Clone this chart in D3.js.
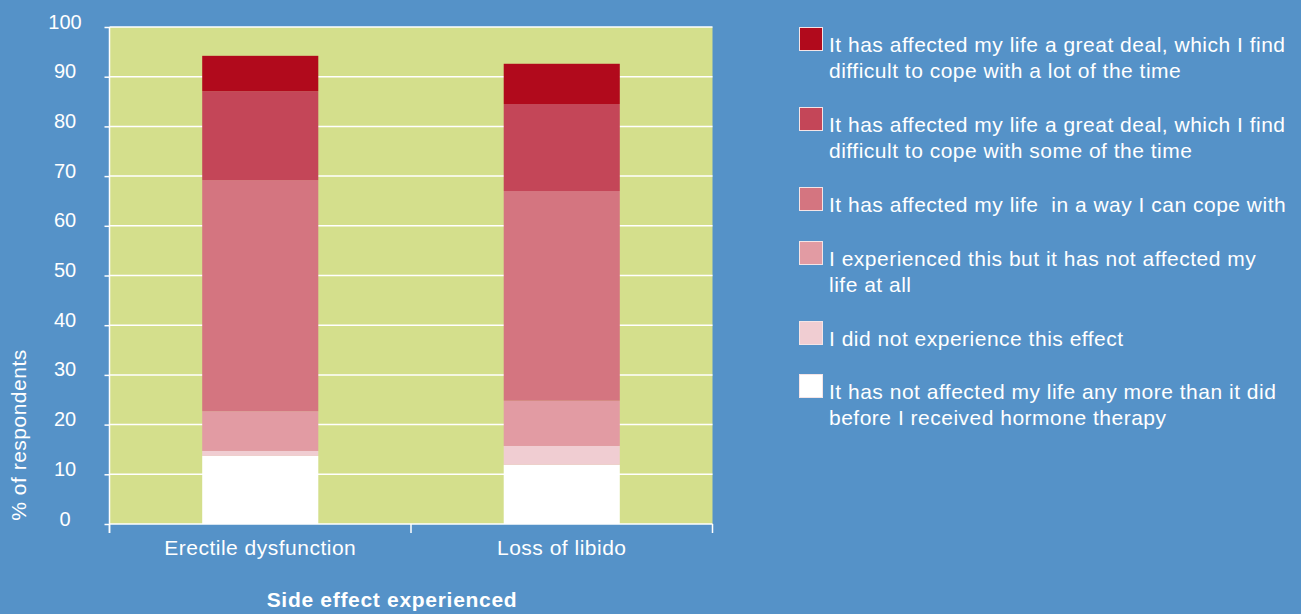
<!DOCTYPE html>
<html>
<head>
<meta charset="utf-8">
<script src="https://cdn.jsdelivr.net/npm/d3@7"></script>
<style>
  body { margin: 0; background: #5592c8; }
  text { font-family: "Liberation Sans", Arial, Helvetica, sans-serif; fill: #fff; }
  .lbl { font-size: 21px; letter-spacing: 0.5px; }
</style>
</head>
<body>
<svg id="chart" width="1301" height="614"></svg>
<script>
const categories = ['Erectile dysfunction', 'Loss of libido'];

// stacked bottom to top
const notMoreThanBefore = [13.7, 11.9];
const didNotExperience = [1.0, 3.8];
const notAffected = [8.0, 9.1];
const canCope = [46.5, 42.2];
const someOfTheTime = [17.9, 17.5];
const lotOfTheTime = [7.1, 8.1];

const yTicks = [0, 10, 20, 30, 40, 50, 60, 70, 80, 90, 100];

const seriesKeys = ['lot', 'some', 'cope', 'notAffected', 'didNot', 'notMore'];
const legendLabels = [
  ['It has affected my life a great deal, which I find', 'difficult to cope with a lot of the time'],
  ['It has affected my life a great deal, which I find', 'difficult to cope with some of the time'],
  ['It has affected my life  in a way I can cope with'],
  ['I experienced this but it has not affected my', 'life at all'],
  ['I did not experience this effect'],
  ['It has not affected my life any more than it did', 'before I received hormone therapy']
];
const colors = ['#b10a1c', '#c44658', '#d47580', '#e29ba3', '#f0cdd2', '#ffffff'];

const rows = categories.map((c, i) => ({
  category: c,
  notMore: notMoreThanBefore[i],
  didNot: didNotExperience[i],
  notAffected: notAffected[i],
  cope: canCope[i],
  some: someOfTheTime[i],
  lot: lotOfTheTime[i]
}));

const svg = d3.select('#chart');
const plotLeft = 109.5, plotRight = 712.5, plotTop = 27, plotBottom = 524;

svg.append('rect').attr('width', 1301).attr('height', 614).attr('fill', '#5592c8');

const x = d3.scaleBand().domain(categories).range([plotLeft, plotRight]).padding(0);
const y = d3.scaleLinear().domain([0, 100]).range([plotBottom, plotTop]);
const color = d3.scaleOrdinal().domain(seriesKeys).range(colors);

// plot background
svg.append('rect')
  .attr('x', plotLeft).attr('y', y(100))
  .attr('width', plotRight - plotLeft).attr('height', y(0) - y(100))
  .attr('fill', '#d4df8c');

// gridlines
svg.append('g').selectAll('line')
  .data(yTicks.filter(d => d > 0))
  .join('line')
  .attr('x1', plotLeft).attr('x2', plotRight)
  .attr('y1', d => y(d)).attr('y2', d => y(d))
  .attr('stroke', '#fff').attr('stroke-width', 1.5);

const stacked = d3.stack().keys(seriesKeys.slice().reverse())(rows);
const barW = x.bandwidth() * 0.385;

svg.append('g').selectAll('g')
  .data(stacked)
  .join('g')
  .attr('fill', d => color(d.key))
  .selectAll('rect')
  .data(d => d)
  .join('rect')
  .attr('x', d => x(d.data.category) + (x.bandwidth() - barW) / 2)
  .attr('width', barW)
  .attr('y', d => y(d[1]))
  .attr('height', d => y(d[0]) - y(d[1]));

// y axis
const yAxis = svg.append('g').attr('transform', `translate(${plotLeft},0)`)
  .call(d3.axisLeft(y).tickValues(yTicks).tickSize(5).tickPadding(0));
yAxis.select('.domain').remove();
yAxis.selectAll('.tick line').attr('stroke', '#fff').attr('stroke-width', 1.5);
yAxis.selectAll('.tick text')
  .attr('x', 65 - plotLeft).attr('dy', '0.05em')
  .attr('text-anchor', 'middle')
  .style('font-size', '20px').style('font-family', '"Liberation Sans", Arial, sans-serif')
  .attr('fill', '#fff');
svg.append('line')
  .attr('x1', plotLeft).attr('x2', plotLeft)
  .attr('y1', y(100)).attr('y2', 533)
  .attr('stroke', '#fff').attr('stroke-width', 1.5);

// x axis
svg.append('line')
  .attr('x1', plotLeft).attr('x2', plotRight)
  .attr('y1', y(0)).attr('y2', y(0))
  .attr('stroke', '#fff').attr('stroke-width', 1.5);
svg.append('g').selectAll('line')
  .data([plotLeft, x(categories[1]), plotRight])
  .join('line')
  .attr('x1', d => d).attr('x2', d => d)
  .attr('y1', y(0)).attr('y2', 533)
  .attr('stroke', '#fff').attr('stroke-width', 1.5);
svg.append('g').selectAll('text')
  .data(categories)
  .join('text')
  .attr('class', 'lbl')
  .attr('x', d => x(d) + x.bandwidth() / 2)
  .attr('y', 555)
  .attr('text-anchor', 'middle')
  .text(d => d);

// axis titles
svg.append('text')
  .attr('class', 'lbl')
  .attr('x', 392).attr('y', 607)
  .attr('text-anchor', 'middle')
  .style('font-weight', 'bold').style('letter-spacing', '0.7px')
  .text('Side effect experienced');
svg.append('text')
  .attr('class', 'lbl')
  .attr('transform', 'translate(26,435) rotate(-90)')
  .attr('text-anchor', 'middle')
  .text('% of respondents');

// legend
const legendTops = [27, 107, 187, 241, 321, 374];
const legend = svg.append('g').selectAll('g')
  .data(seriesKeys)
  .join('g')
  .attr('transform', (d, i) => `translate(799,${legendTops[i]})`);
legend.append('rect')
  .attr('x', 0.5).attr('y', 0.5)
  .attr('width', 23).attr('height', 23)
  .attr('fill', d => color(d))
  .attr('stroke', '#f4e4e6').attr('stroke-width', 1);
legend.append('text')
  .attr('class', 'lbl')
  .attr('x', 30).attr('y', 25)
  .style('white-space', 'pre')
  .selectAll('tspan')
  .data((d, i) => legendLabels[i])
  .join('tspan')
  .attr('x', 30)
  .attr('dy', (d, j) => j === 0 ? 0 : 26)
  .text(d => d);
</script>
</body>
</html>
